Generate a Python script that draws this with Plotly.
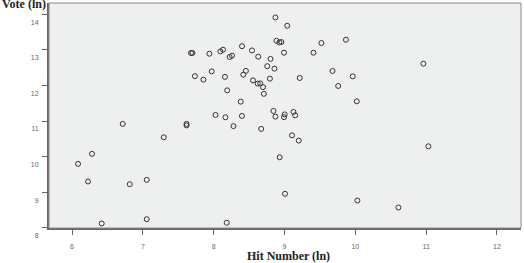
import plotly.graph_objects as go

hit_number_ln = [
    7.68, 7.70, 7.94, 8.095, 8.132, 8.226, 8.259, 8.400, 8.541, 8.629,
    7.735, 7.855, 7.972, 8.159, 8.455, 8.418, 8.555, 8.622, 8.657, 8.697,
    8.709, 8.191, 8.382, 8.026, 8.166, 8.399, 8.279, 6.716, 7.617, 7.617,
    8.671, 8.872, 9.038, 8.886, 8.928, 8.956, 8.993, 8.802, 8.756, 8.858,
    8.794, 9.521, 9.867, 9.410, 9.215, 9.677, 9.963, 9.758, 10.020, 10.961,
    8.844, 8.872, 9.003, 8.993, 9.126, 9.151, 9.106, 9.201, 8.932, 11.031,
    9.007, 10.029, 10.608, 7.295, 6.282, 6.085, 6.226, 6.815, 7.055, 6.419,
    7.055, 8.184,
]
vote_ln = [
    12.908, 12.908, 12.888, 12.952, 13.000, 12.796, 12.832, 13.098, 12.980, 12.804,
    12.258, 12.160, 12.392, 12.238, 12.406, 12.300, 12.140, 12.048, 12.056, 11.950,
    11.762, 11.860, 11.543, 11.171, 11.104, 11.143, 10.857, 10.919, 10.919, 10.877,
    10.779, 13.905, 13.672, 13.252, 13.204, 13.216, 12.916, 12.742, 12.538, 12.468,
    12.188, 13.188, 13.280, 12.916, 12.207, 12.403, 12.252, 11.983, 11.552, 12.608,
    11.283, 11.123, 11.185, 11.109, 11.255, 11.160, 10.599, 10.451, 9.983, 10.291,
    8.958, 8.770, 8.574, 10.543, 10.078, 9.798, 9.303, 9.227, 9.350, 8.126,
    8.246, 8.146,
]
x_ticks = [6, 7, 8, 9, 10, 11, 12]
y_ticks = [8, 9, 10, 11, 12, 13, 14]

fig = go.Figure()
fig.add_trace(go.Scatter(
    x=hit_number_ln, y=vote_ln, mode="markers",
    marker=dict(symbol="circle-open", size=5, color="#333333", line=dict(width=1, color="#333333")),
    hoverinfo="skip", showlegend=False,
))

tick_font = dict(family="Liberation Sans, Arial, sans-serif", size=7, color="#666666")

fig.update_layout(
    width=524, height=263,
    margin=dict(l=49, r=3, t=3, b=35),
    paper_bgcolor="white",
    plot_bgcolor="#eeefef",
    xaxis=dict(
        range=[5.675, 12.339], tickvals=x_ticks, ticktext=[str(v) for v in x_ticks],
        showgrid=False, zeroline=False,
        showline=True, linecolor="#666666", linewidth=2,
        ticks="outside", ticklen=5, tickcolor="#666666", tickwidth=1,
        tickfont=tick_font, ticklabelstandoff=6,
    ),
    yaxis=dict(
        range=[7.999, 14.31], tickvals=y_ticks, ticktext=[str(v) for v in y_ticks],
        showgrid=False, zeroline=False,
        showline=True, linecolor="#666666", linewidth=2,
        ticks="outside", ticklen=5, tickcolor="#666666", tickwidth=1,
        tickfont=tick_font, ticklabelshift=8, ticklabelstandoff=2,
    ),
    shapes=[dict(type="rect", xref="paper", yref="paper", x0=0, y0=0, x1=1, y1=1,
                 line=dict(color="#8a8a8a", width=1), fillcolor="rgba(0,0,0,0)", layer="above")],
    annotations=[
        dict(text="<b>Vote (ln)</b>", xref="paper", yref="paper", x=0, y=1,
             xanchor="left", yanchor="middle", xshift=-49, yshift=-1, showarrow=False,
             font=dict(family="Liberation Serif, Times New Roman, serif", size=12, color="#222222")),
        dict(text="<b>Hit Number (ln)</b>", xref="paper", yref="paper", x=0.508, y=0,
             xanchor="center", yanchor="middle", yshift=-28, showarrow=False,
             font=dict(family="Liberation Serif, Times New Roman, serif", size=12, color="#222222")),
    ],
)

fig.write_html("out.html")
